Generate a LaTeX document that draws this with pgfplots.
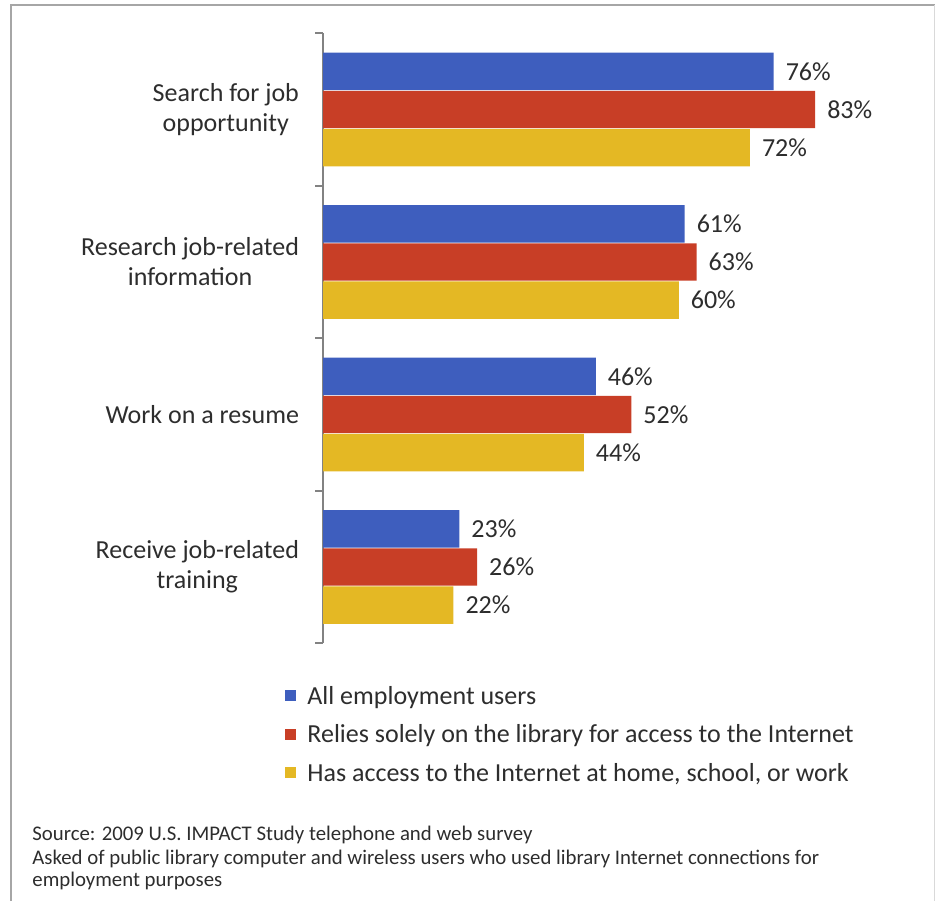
\documentclass[border=0pt]{standalone}
\usepackage{fontspec}
\setmainfont{Carlito}
\usepackage{pgfplots}
\pgfplotsset{compat=1.18}
\definecolor{cblue}{RGB}{62,94,190}
\definecolor{cred}{RGB}{200,62,38}
\definecolor{cyellow}{RGB}{228,184,36}
\definecolor{txt}{RGB}{45,45,45}
\definecolor{axgray}{RGB}{130,130,130}
\begin{document}
\begin{tikzpicture}
\useasboundingbox (0pt,0pt) rectangle (468.5pt,450.5pt);
\draw[gray!70, line width=1pt] (5.5pt,0pt) -- (5.5pt,448pt) -- (467.3pt,448pt);
\draw[gray!30, line width=0.6pt] (467.3pt,448pt) -- (467.3pt,0pt);
\begin{axis}[
  at={(161.5pt,128.85pt)}, anchor=south west,
  scale only axis, width=296.5pt, height=305pt,
  xmin=0, xmax=100, ymin=-0.5, ymax=3.5,
  xbar, bar width=0.245,
  axis x line=none,
  axis y line*=left,
  axis line style={axgray, line width=1pt},
  y axis line style={-},
  ytick={-0.5,0.5,1.5,2.5,3.5},
  y tick label as interval,
  yticklabels={{Receive job-related\\training},{Work on a resume},{Research job-related\\information},{Search for job\\opportunity}},
  yticklabel style={align=center, font=\fontsize{13}{15}\selectfont, text=txt, xshift=-4.5pt},
  tick align=outside, major tick length=4pt,
  tick style={axgray, line width=1pt},
  xtick=\empty,
  clip=false,
  /pgf/number format/assume math mode=true,
  nodes near coords={\pgfmathprintnumber{\pgfplotspointmeta}\%},
  nodes near coords style={font=\fontsize{13}{15}\selectfont, text=txt, xshift=2.5pt},
  legend style={at={(axis description cs:-0.0641,-0.070)}, anchor=north west, draw=none, fill=none,
    font=\fontsize{13}{15}\selectfont, text=txt, inner sep=0pt, row sep=7.25pt, column sep=5.5pt,
    nodes={inner sep=0pt, text height=9pt, text depth=3pt}},
  legend cell align=left,
  legend image code/.code={\fill[#1] (0pt,-1.4pt) rectangle (5.5pt,4.1pt);},
]
\addplot[fill=cblue, draw=none, bar shift=0.25] coordinates {(23,0) (46,1) (61,2) (76,3)};
\addplot[fill=cred, draw=none, bar shift=0] coordinates {(26,0) (52,1) (63,2) (83,3)};
\addplot[fill=cyellow, draw=none, bar shift=-0.25] coordinates {(22,0) (44,1) (60,2) (72,3)};
\legend{All employment users, Relies solely on the library for access to the Internet, {Has access to the Internet at home, school, or work}}
\end{axis}
\begin{scope}[font=\fontsize{10.4}{12}\selectfont, text=txt]
\node[anchor=base west, inner sep=0pt] at (16pt,30.5pt) {Source: 2009 U.S. IMPACT Study telephone and web survey};
\node[anchor=base west, inner sep=0pt] at (16pt,18.5pt) {Asked of public library computer and wireless users who used library Internet connections for};
\node[anchor=base west, inner sep=0pt] at (16pt,7.5pt) {employment purposes};
\end{scope}
\end{tikzpicture}
\end{document}
